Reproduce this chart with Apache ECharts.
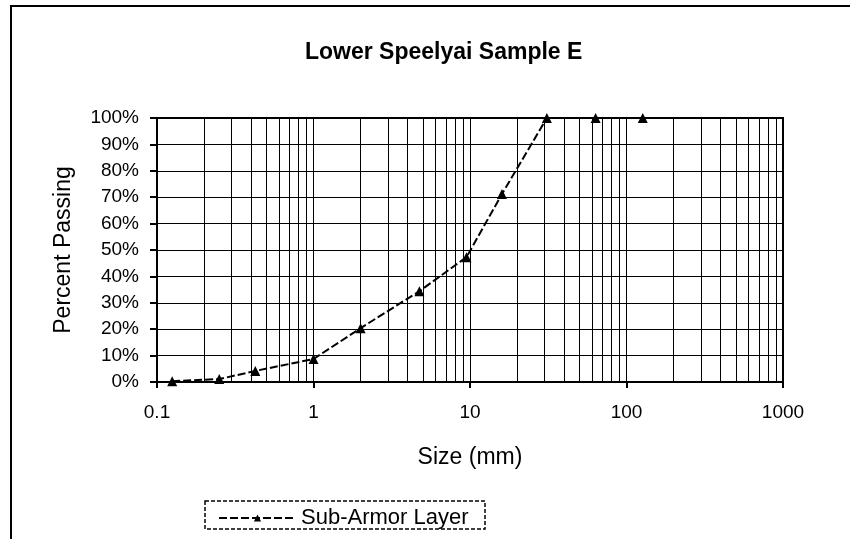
<!DOCTYPE html>
<html>
<head>
<meta charset="utf-8">
<script src="https://cdn.jsdelivr.net/npm/echarts@6/dist/echarts.min.js"></script>
<style>
  html, body { margin: 0; padding: 0; background: #fff; }
  #chart { width: 850px; height: 539px; }
</style>
</head>
<body>
<div id="chart"></div>
<script>
// sieve sizes (mm) and percent passing
var sizes = [0.125, 0.25, 0.425, 1, 2, 4.75, 9.5, 16, 31, 63.5, 127];
var passing = [0.3, 1.1, 4.2, 8.7, 20.4, 34.4, 47.3, 71.2, 100, 100, 100];
var seriesName = 'Sub-Armor Layer';

// minor log grid lines (2..9 in each decade)
var minorLines = [];
[0.1, 1, 10, 100].forEach(function (d) {
  for (var k = 2; k <= 9; k++) minorLines.push({ xAxis: +(d * k).toPrecision(3) });
});

var font = 'Liberation Sans, Arial, sans-serif';
var myChart = echarts.init(document.getElementById('chart'));

var option = {
  animation: false,
  backgroundColor: '#fff',
  title: {
    text: 'Lower Speelyai Sample E',
    left: 300,
    top: 36,
    textStyle: { fontFamily: font, fontSize: 23, fontWeight: 'bold', color: '#000' }
  },
  legend: {
    data: [seriesName],
    left: 213,
    top: 502,
    itemWidth: 77,
    itemHeight: 9,
    textStyle: { fontFamily: font, fontSize: 22, color: '#000' }
  },
  grid: {
    left: 157, right: 67, top: 118, bottom: 157,
    show: true, borderColor: '#000', borderWidth: 2
  },
  xAxis: {
    type: 'log',
    logBase: 10,
    min: 0.1,
    max: 1000,
    name: 'Size (mm)',
    nameLocation: 'middle',
    nameGap: 64,
    nameTextStyle: { fontFamily: font, fontSize: 23, color: '#000' },
    axisLine: { lineStyle: { color: '#000', width: 2 } },
    axisTick: { show: true, length: 6, lineStyle: { color: '#000', width: 2 } },
    axisLabel: {
      margin: 21, fontFamily: font, fontSize: 19, color: '#000',
      formatter: function (v) { return String(+v.toPrecision(3)); }
    },
    splitLine: { show: true, lineStyle: { color: '#000', width: 1 } }
  },
  yAxis: {
    type: 'value',
    min: 0,
    max: 100,
    interval: 10,
    name: 'Percent Passing',
    nameLocation: 'middle',
    nameGap: 82,
    nameTextStyle: { fontFamily: font, fontSize: 23, color: '#000' },
    axisLine: { show: true, lineStyle: { color: '#000', width: 2 } },
    axisTick: { show: true, length: 7, lineStyle: { color: '#000', width: 2 } },
    axisLabel: { margin: 18, formatter: '{value}%', fontFamily: font, fontSize: 19, color: '#000' },
    splitLine: { show: true, lineStyle: { color: '#000', width: 1 } }
  },
  series: [
    {
      name: 'grid',
      type: 'line',
      data: [],
      silent: true,
      z: 1,
      markLine: {
        silent: true,
        symbol: ['none', 'none'],
        label: { show: false },
        lineStyle: { color: '#000', width: 1, type: 'solid' },
        emphasis: { disabled: true },
        data: minorLines
      }
    },
    {
      name: seriesName,
      type: 'line',
      z: 5,
      data: sizes.map(function (s, i) { return [s, passing[i]]; }),
      symbol: 'triangle',
      symbolSize: 10,
      itemStyle: { color: '#000' },
      lineStyle: { color: '#000', width: 2, type: [8, 3] }
    }
  ],
  graphic: [
    {
      type: 'polyline',
      shape: { points: [[11, 545], [11, 6], [860, 6]] },
      style: { stroke: '#000', lineWidth: 2, fill: null }
    },
    {
      type: 'rect',
      shape: { x: 205, y: 501, width: 280, height: 28 },
      style: { stroke: '#000', lineWidth: 1.5, fill: null, lineDash: [4, 2] }
    }
  ]
};

myChart.setOption(option);
</script>
</body>
</html>
